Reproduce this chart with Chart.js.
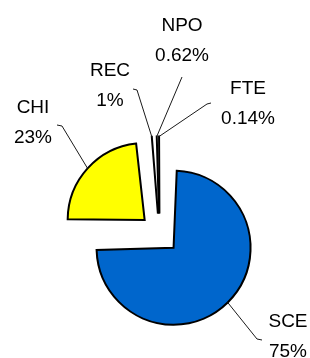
<!DOCTYPE html>
<html>
<head>
<meta charset="utf-8">
<script src="https://cdn.jsdelivr.net/npm/chart.js@4"></script>
<style>
  html, body { margin: 0; padding: 0; background: #fff; }
  canvas { display: block; }
</style>
</head>
<body>
<canvas id="pie" width="310" height="358"></canvas>
<script>
  const categories = ["SCE", "CHI", "REC", "NPO", "FTE"];
  const shares = [75, 23, 1, 0.62, 0.14];
  const shareLabels = ["75%", "23%", "1%", "0.62%", "0.14%"];
  const sliceColors = ["#0066cc", "#ffff00", "#ffffcc", "#000000", "#000000"];

  // where each label sits and how its leader line bends (layout only)
  const labelLayout = [
    { x: 288, y: 322, bend: [257, 339], tick: [262, 340] },
    { x: 33, y: 108, bend: [62, 126], tick: [57, 125] },
    { x: 110, y: 71, bend: [137, 90], tick: [133, 89] },
    { x: 182, y: 26, bend: [182, 77], tick: null },
    { x: 248, y: 89, bend: [207, 104], tick: [211, 103] }
  ];

  const pieRadius = 77;
  const explode = 20;
  const arcOffset = explode * 4; // chart.js moves an arc by offset / 4

  // chart.js also grows an exploded arc's radius by (offset / 4) * fix,
  // pull it back so every slice keeps the same radius like the original
  const evenRadius = {
    id: "evenRadius",
    beforeDatasetsDraw(chart) {
      chart.getDatasetMeta(0).data.forEach((arc) => {
        const fix = 1 - Math.sin(Math.min(Math.PI, arc.circumference || 0));
        arc.outerRadius = pieRadius - explode * fix;
      });
    }
  };

  const leaderLabels = {
    id: "leaderLabels",
    afterDatasetsDraw(chart) {
      const ctx = chart.ctx;
      const arcs = chart.getDatasetMeta(0).data;
      ctx.save();
      ctx.strokeStyle = "#1a1a1a";
      ctx.lineWidth = 1;
      arcs.forEach((arc, i) => {
        const mid = (arc.startAngle + arc.endAngle) / 2;
        const r = explode + pieRadius;
        const sx = arc.x + Math.cos(mid) * r;
        const sy = arc.y + Math.sin(mid) * r;
        const lay = labelLayout[i];
        ctx.beginPath();
        ctx.moveTo(sx, sy);
        ctx.lineTo(lay.bend[0], lay.bend[1]);
        if (lay.tick) ctx.lineTo(lay.tick[0], lay.tick[1]);
        ctx.stroke();
      });
      ctx.fillStyle = "#000";
      ctx.font = "19px 'Liberation Sans', Arial, sans-serif";
      ctx.textAlign = "center";
      ctx.textBaseline = "middle";
      arcs.forEach((arc, i) => {
        const lay = labelLayout[i];
        ctx.fillText(categories[i], lay.x, lay.y);
        ctx.fillText(shareLabels[i], lay.x, lay.y + 30);
      });
      ctx.restore();
    }
  };

  new Chart(document.getElementById("pie"), {
    type: "pie",
    data: {
      labels: categories,
      datasets: [
        {
          data: shares,
          backgroundColor: sliceColors,
          borderColor: "#000",
          borderWidth: 2,
          borderJoinStyle: "miter",
          offset: arcOffset
        }
      ]
    },
    options: {
      responsive: false,
      animation: false,
      radius: pieRadius,
      layout: {
        padding: { left: 9, right: 0, top: 109, bottom: 0 }
      },
      plugins: {
        legend: { display: false },
        tooltip: { enabled: false }
      }
    },
    plugins: [evenRadius, leaderLabels]
  });
</script>
</body>
</html>
